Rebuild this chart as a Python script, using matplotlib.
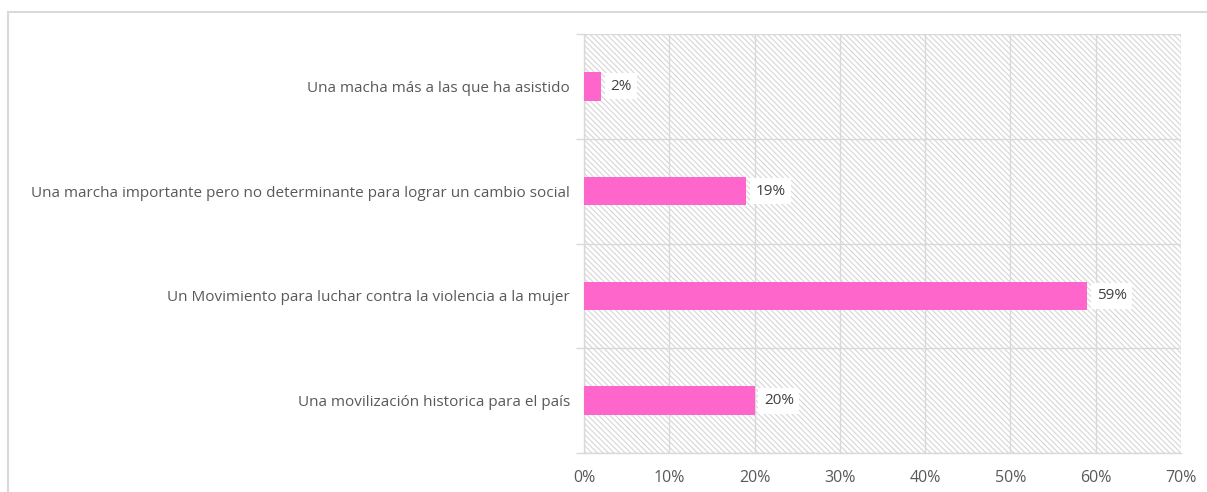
import numpy as np
import matplotlib.pyplot as plt
from matplotlib.patches import Rectangle
from matplotlib.ticker import FixedLocator, PercentFormatter

categories = [
    "Una movilización historica para el país",
    "Un Movimiento para luchar contra la violencia a la mujer",
    "Una marcha importante pero no determinante para lograr un cambio social",
    "Una macha más a las que ha asistido",
]
values = [20, 59, 19, 2]
xticks = [0, 10, 20, 30, 40, 50, 60, 70]

plt.rcParams['font.family'] = ['Open Sans', 'DejaVu Sans']
plt.rcParams['hatch.linewidth'] = 0.8

grid_col = '#d9d9d9'
text_col = '#595959'

fig = plt.figure(figsize=(12.07, 4.92), dpi=100)
# outer chart border (cropped at right/bottom)
fig.patches.append(Rectangle((8 / 1207, -0.1), 1.2, 1 - 12 / 492 + 0.1,
                             transform=fig.transFigure, fill=False,
                             edgecolor='#d9d9d9', lw=1.5))

ax = fig.add_axes([584 / 1207, 1 - 453 / 492, (1181 - 584) / 1207, (453 - 34) / 492])
ax.set_facecolor('white')
ax.add_patch(Rectangle((0, 0), 1, 1, transform=ax.transAxes, facecolor='white',
                       edgecolor='#d6d6d6', lw=0, hatch='\\\\\\\\\\\\', zorder=0))

y = np.arange(len(categories))
ax.barh(y, values, height=0.27, color='#ff66cc', zorder=3)
for yi, v in zip(y, values):
    ax.text(v + 1.1, yi, f"{v}%", va='center', ha='left', fontsize=11, color='#404040',
            zorder=4, bbox=dict(facecolor='white', edgecolor='none', pad=4))

ax.set_xlim(0, 70)
ax.set_ylim(-0.5, len(categories) - 0.5)
ax.set_xticks(xticks)
ax.xaxis.set_major_formatter(PercentFormatter(decimals=0))
ax.set_yticks(y)
ax.set_yticklabels(categories)
ax.yaxis.set_minor_locator(FixedLocator(np.arange(-0.5, len(categories), 1)))

ax.tick_params(axis='x', length=0, pad=12, labelsize=11.5, labelcolor=text_col)
ax.tick_params(axis='y', which='major', length=0, pad=10, labelsize=11, labelcolor=text_col)
ax.tick_params(axis='y', which='minor', length=6, color=grid_col, width=1)

ax.grid(axis='x', color=grid_col, lw=1, zorder=1)
ax.grid(axis='y', which='minor', color=grid_col, lw=1, zorder=1)
ax.set_axisbelow(True)
for s in ['top', 'right']:
    ax.spines[s].set_visible(False)
for s in ['left', 'bottom']:
    ax.spines[s].set_color(grid_col)
    ax.spines[s].set_linewidth(1)

fig.savefig('out.png', dpi=100)
